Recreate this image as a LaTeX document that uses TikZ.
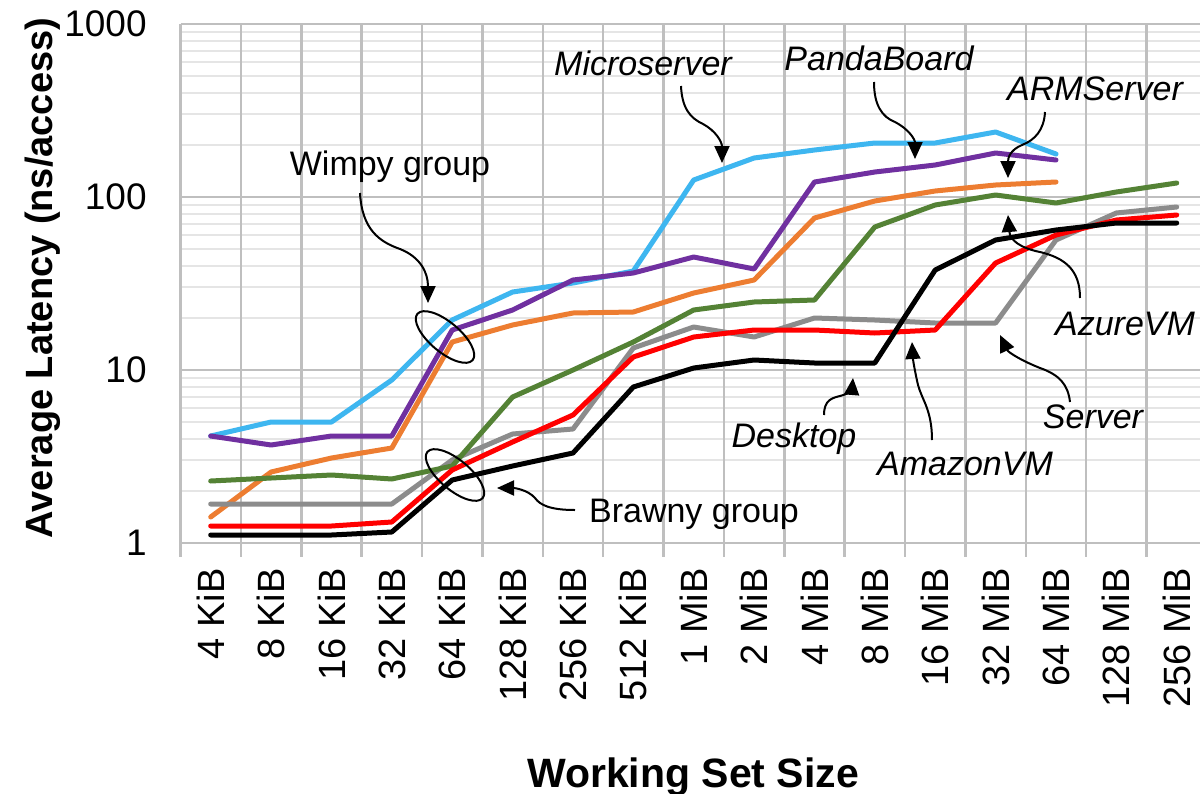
\documentclass[tikz,border=0pt]{standalone}
\usepackage{fontspec}
\setmainfont{Liberation Sans}
\usetikzlibrary{arrows.meta}
\definecolor{cblue}{RGB}{62,182,240}
\definecolor{cpurple}{RGB}{112,48,160}
\definecolor{corange}{RGB}{237,125,49}
\definecolor{cgreen}{RGB}{84,130,53}
\definecolor{cgrey}{RGB}{140,140,140}
\definecolor{cred}{RGB}{255,0,0}
\definecolor{majgrid}{RGB}{191,191,191}
\definecolor{mingrid}{RGB}{229,229,229}
\begin{document}
\begin{tikzpicture}[x=0.5pt,y=-0.5pt,
  series/.style={line width=2.5pt,line join=round,line cap=round},
  note/.style={font=\fontsize{17}{20}\selectfont\itshape,inner sep=0pt,anchor=base},
  plainnote/.style={font=\fontsize{17}{20}\selectfont,inner sep=0pt,anchor=base},
  pointer/.style={line width=1pt,-{Triangle[length=8.5pt,width=7.5pt]}},
  ring/.style={line width=1pt},
  ticklab/.style={font=\fontsize{18.5}{20}\selectfont,inner sep=0pt},
  catlab/.style={font=\fontsize{19}{20}\selectfont,inner sep=0pt,rotate=90,anchor=east},
  majline/.style={majgrid,line width=1.25pt},
  minline/.style={mingrid,line width=1pt}]
\useasboundingbox (0,0) rectangle (1200,793);
\fill[white] (0,0) rectangle (1200,793);
% minor grid
\foreach \d in {0,1,2}{
  \foreach \k in {2,...,9}{
    \pgfmathsetmacro\yy{543-173*(\d+log10(\k))}
    \draw[minline] (180.5,\yy) -- (1200,\yy);
  }
}
% major horizontal grid
\foreach \yy in {24,197,370,543}{
  \draw[majline] (180.5,\yy) -- (1200,\yy);
}
% vertical grid
\foreach \k in {0,...,16}{
  \draw[majline] ({180.5+60.375*\k},23.5) -- ++(0,533.5);
}
% y tick labels
\node[ticklab,anchor=east] (t1000) at (147,24) {1000};
\node[ticklab,anchor=east] (t100) at (147,197) {100};
\node[ticklab,anchor=east] (t10) at (147,370) {10};
\node[ticklab,anchor=east] (t1) at (147,543) {1};
% category labels
\foreach \lab [count=\i from 0] in {4 KiB,8 KiB,16 KiB,32 KiB,64 KiB,128 KiB,256 KiB,512 KiB,1 MiB,2 MiB,4 MiB,8 MiB,16 MiB,32 MiB,64 MiB,128 MiB,256 MiB}{
  \node[catlab] (cat\i) at ({210.7+60.375*\i},568) {\lab};
}
% axis titles
\node[font=\fontsize{19}{22}\selectfont\bfseries,rotate=90,anchor=base,inner sep=0pt] (ytitle) at (52,278) {Average Latency (ns/access)};
\node[font=\fontsize{20.5}{24}\selectfont\bfseries,anchor=base,inner sep=0pt] (xtitle) at (693,787) {Working Set Size};
% data series
\draw[series,cblue] (210.7,436) -- (271.1,422) -- (331.5,422) -- (391.8,380) -- (452.2,320) -- (512.6,292) -- (573.0,283) -- (633.3,271) -- (693.7,180) -- (754.1,158) -- (814.5,150) -- (874.8,143) -- (935.2,143) -- (995.6,132) -- (1056.0,154);
\draw[series,cpurple] (210.7,436) -- (271.1,445) -- (331.5,436) -- (391.8,436) -- (452.2,330) -- (512.6,310) -- (573.0,280) -- (633.3,273) -- (693.7,257) -- (754.1,269) -- (814.5,182) -- (874.8,172) -- (935.2,165) -- (995.6,153) -- (1056.0,160);
\draw[series,corange] (210.7,517) -- (271.1,472) -- (331.5,458) -- (391.8,448) -- (452.2,342) -- (512.6,325) -- (573.0,313) -- (633.3,312) -- (693.7,293) -- (754.1,280) -- (814.5,218) -- (874.8,201) -- (935.2,191) -- (995.6,185) -- (1056.0,182);
\draw[series,cgrey] (210.7,504) -- (271.1,504) -- (331.5,504) -- (391.8,504) -- (452.2,460) -- (512.6,434) -- (573.0,429) -- (633.3,348) -- (693.7,327) -- (754.1,337) -- (814.5,318) -- (874.8,320) -- (935.2,323) -- (995.6,323) -- (1056.0,240) -- (1116.3,213) -- (1176.7,207);
\draw[series,cgreen] (210.7,481) -- (271.1,478) -- (331.5,475) -- (391.8,479) -- (452.2,466) -- (512.6,397) -- (573.0,370) -- (633.3,342) -- (693.7,310) -- (754.1,302) -- (814.5,300) -- (874.8,227) -- (935.2,205) -- (995.6,195) -- (1056.0,203) -- (1116.3,192) -- (1176.7,183);
\draw[series,cred] (210.7,526) -- (271.1,526) -- (331.5,526) -- (391.8,522) -- (452.2,470) -- (512.6,442) -- (573.0,415) -- (633.3,357) -- (693.7,337) -- (754.1,330) -- (814.5,330) -- (874.8,333) -- (935.2,330) -- (995.6,263) -- (1056.0,235) -- (1116.3,220) -- (1176.7,215);
\draw[series,black] (210.7,535) -- (271.1,535) -- (331.5,535) -- (391.8,532) -- (452.2,480) -- (512.6,466) -- (573.0,453) -- (633.3,387) -- (693.7,368) -- (754.1,360) -- (814.5,363) -- (874.8,363) -- (935.2,270) -- (995.6,240) -- (1056.0,230) -- (1116.3,223) -- (1176.7,223);
% group rings
\coordinate (wimpyc) at (445,337);
\coordinate (brawnyc) at (455,475);
\draw[ring,rotate around={-40:(wimpyc)}] (wimpyc) ellipse (36 and 15);
\draw[ring,rotate around={-40:(brawnyc)}] (brawnyc) ellipse (36 and 15);
% annotation labels
\node[note] (microserver) at (643,75) {Microserver};
\node[note] (panda) at (879,70) {PandaBoard};
\node[note] (arm) at (1095,100) {ARMServer};
\node[plainnote] (wimpy) at (390,175) {Wimpy group};
\node[plainnote] (brawny) at (694,522) {Brawny group};
\node[note] (desktop) at (794,447) {Desktop};
\node[note] (amazon) at (965,475) {AmazonVM};
\node[note] (server) at (1093,428) {Server};
\node[note] (azure) at (1125,335) {AzureVM};
% pointer end points
\coordinate (ms-s) at (681,86);   \coordinate (ms-t) at (722,163);
\coordinate (pb-s) at (874,82);   \coordinate (pb-t) at (915,159);
\coordinate (ar-s) at (1045,112); \coordinate (ar-t) at (1008,178);
\coordinate (wi-s) at (360,193);  \coordinate (wi-t) at (428,303);
\coordinate (br-s) at (575,510);  \coordinate (br-t) at (497,488);
\coordinate (de-s) at (824,415);  \coordinate (de-t) at (853,378);
\coordinate (am-s) at (932,440);  \coordinate (am-t) at (912,342);
\coordinate (se-s) at (1070,402); \coordinate (se-t) at (1000,335);
\coordinate (az-s) at (1080,298); \coordinate (az-t) at (1008,215);
% pointers
\draw[pointer] (ms-s) .. controls (682,108) and (690,118) .. (703,124) .. controls (716,131) and (722,142) .. (ms-t);
\draw[pointer] (pb-s) .. controls (874,105) and (882,117) .. (895,122) .. controls (910,130) and (915,140) .. (pb-t);
\draw[pointer] (ar-s) .. controls (1044,130) and (1035,140) .. (1022,145) .. controls (1010,150) and (1008,158) .. (ar-t);
\draw[pointer] (wi-s) .. controls (362,230) and (380,242) .. (400,249) .. controls (420,257) and (428,272) .. (wi-t);
\draw[pointer] (br-s) .. controls (550,510) and (540,505) .. (535,498) .. controls (528,490) and (515,488) .. (br-t);
\draw[pointer] (de-s) .. controls (824,400) and (832,398) .. (840,396) .. controls (848,394) and (852,390) .. (de-t);
\draw[pointer] (am-s) .. controls (932,410) and (922,400) .. (918,385) .. controls (915,372) and (913,360) .. (am-t);
\draw[pointer] (se-s) .. controls (1068,385) and (1060,375) .. (1040,368) .. controls (1020,360) and (1008,352) .. (se-t);
\draw[pointer] (az-s) .. controls (1080,270) and (1065,258) .. (1040,252) .. controls (1020,248) and (1010,240) .. (az-t);
\end{tikzpicture}
\end{document}
